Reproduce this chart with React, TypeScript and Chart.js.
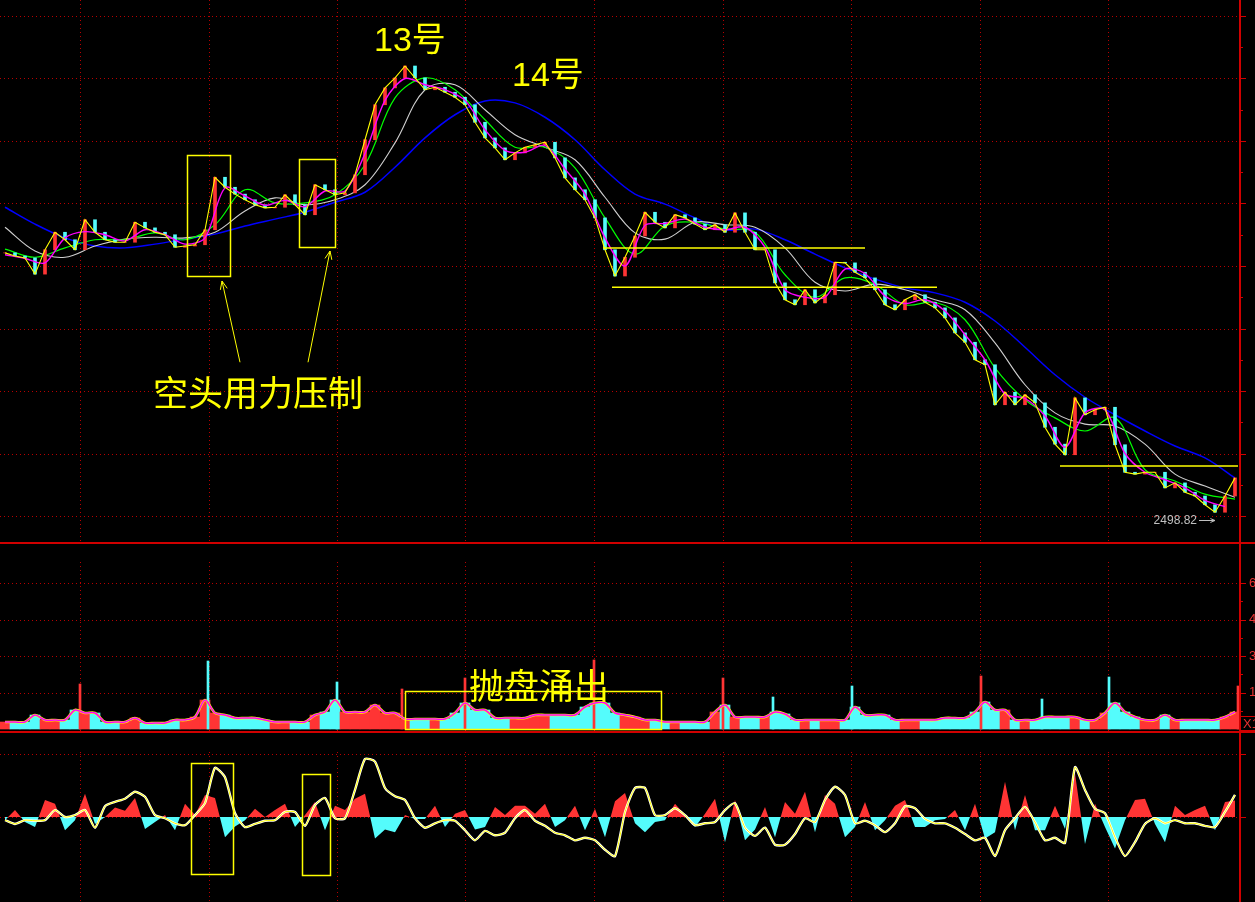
import React, { useEffect, useRef } from "react";
import { Chart, registerables } from "chart.js";
Chart.register(...registerables);

// ---------------- data (one bar index = one sampled trading slot) ----------------
const closes = [
  2921, 2916, 2913, 2887, 2926, 2954, 2942, 2926, 2974, 2954,
  2942, 2938, 2938, 2970, 2961, 2954, 2950, 2930, 2932, 2934,
  2958, 3042, 3026, 3015, 3006, 2998, 2993, 2994, 3014, 2998,
  2982, 3030, 3022, 3014, 3017, 3046, 3102, 3158, 3185, 3201,
  3220, 3201, 3182, 3186, 3178, 3170, 3158, 3130, 3105, 3089,
  3070, 3081, 3090, 3094, 3098, 3073, 3041, 3022, 3006, 2977,
  2926, 2884, 2914, 2948, 2986, 2970, 2961, 2982, 2977, 2967,
  2958, 2966, 2954, 2985, 2954, 2926, 2926, 2873, 2846, 2838,
  2862, 2841, 2854, 2906, 2905, 2890, 2881, 2862, 2838, 2830,
  2846, 2854, 2842, 2833, 2817, 2793, 2778, 2750, 2742, 2678,
  2698, 2678, 2694, 2681, 2642, 2615, 2598, 2689, 2662, 2670,
  2674, 2614, 2570, 2567, 2570, 2570, 2545, 2553, 2538, 2532,
  2518, 2506, 2532, 2561,
];
// magenta short average, one value every 2 bars
const maShort = [
  2918, 2912, 2905, 2945, 2955, 2950, 2940, 2958, 2950, 2935,
  2945, 3025, 3012, 2997, 3005, 2995, 3020, 3020, 3080, 3165,
  3200, 3190, 3182, 3165, 3118, 3085, 3082, 3093, 3055, 3015,
  2945, 2900, 2965, 2968, 2975, 2962, 2958, 2962, 2930, 2862,
  2850, 2850, 2895, 2888, 2852, 2840, 2846, 2828, 2790, 2750,
  2695, 2688, 2660, 2610, 2665, 2670, 2600, 2570, 2558, 2545,
  2525, 2515,
];
// green / gray / blue averages, one value every 3 bars
const maGreen = [
  2927, 2914, 2929, 2942, 2942, 2953, 2942, 2966, 3022, 3001,
  3001, 3014, 3062, 3169, 3201, 3182, 3134, 3090, 3090, 3057,
  2977, 2919, 2964, 2970, 2959, 2954, 2886, 2850, 2881, 2870,
  2838, 2842, 2814, 2737, 2686, 2657, 2636, 2657, 2574, 2556,
  2535, 2527,
];
const maGray = [
  2962, 2924, 2914, 2932, 2943, 2946, 2945, 2954, 2988, 3009,
  2998, 3006, 3030, 3097, 3182, 3190, 3150, 3110, 3090, 3070,
  3010, 2953, 2943, 2970, 2966, 2962, 2929, 2874, 2860, 2871,
  2862, 2846, 2830, 2777, 2710, 2665, 2647, 2644, 2615, 2567,
  2548, 2530,
];
const maBlue = [
  2994, 2967, 2945, 2932, 2929, 2935, 2943, 2951, 2964, 2975,
  2986, 3002, 3018, 3058, 3105, 3142, 3164, 3161, 3138, 3102,
  3054, 3015, 2999, 2977, 2958, 2959, 2942, 2919, 2897, 2879,
  2865, 2857, 2842, 2812, 2770, 2726, 2690, 2662, 2636, 2612,
  2593, 2561,
];
const volumes = [
  288, 288, 288, 575, 370, 370, 370, 781, 658, 658,
  288, 288, 288, 452, 247, 247, 247, 370, 370, 493,
  1192, 658, 575, 452, 452, 452, 370, 288, 288, 288,
  288, 575, 699, 1192, 699, 699, 699, 986, 658, 658,
  411, 411, 411, 411, 411, 658, 1069, 781, 781, 452,
  452, 452, 452, 575, 575, 575, 575, 575, 904, 1069,
  1069, 658, 575, 493, 370, 370, 288, 288, 288, 288,
  288, 699, 986, 493, 493, 493, 493, 699, 617, 370,
  370, 370, 370, 370, 370, 904, 575, 575, 575, 370,
  370, 370, 370, 370, 452, 452, 452, 699, 1110, 781,
  781, 370, 370, 370, 493, 493, 493, 493, 370, 370,
  658, 1069, 699, 493, 370, 370, 575, 370, 370, 370,
  370, 370, 493, 699,
];
const spikeIdx = [7.5, 20.3, 33.2, 39.7, 46.0, 58.9, 71.8, 76.8, 84.7, 97.6, 103.7, 110.4, 123.3];
const spikeVol = [1850, 2795, 1932, 1644, 2096, 2836, 2096, 1315, 1767, 2178, 1233, 2137, 1767];
const spikeUp = [true, false, false, true, true, true, true, false, false, true, false, false, true];
const oscLine = [
  -5, -11, -5, -6, -5, 11, 0, 3, 11, -17,
  17, 24, 29, 40, 32, 3, -2, -10, -13, 3,
  22, 78, 63, 6, -16, -11, -6, -5, 8, 8,
  -14, 19, 30, -2, -2, 43, 92, 88, 46, 33,
  27, -2, -17, -10, -5, -6, -21, -37, -22, -29,
  -25, -2, 11, -6, -14, -25, -29, -37, -33, -37,
  -52, -62, 8, 46, 46, 3, 3, 14, 3, -13,
  -10, -8, 11, 22, -17, -30, -17, -44, -44, -27,
  -2, -8, 27, 48, 35, -10, -6, -13, -24, -10,
  17, 14, -3, -10, -10, -17, -27, -37, -33, -62,
  -21, -2, 16, -8, -37, -33, -41, 79, 43, 13,
  6, -32, -62, -40, -11, -2, -10, -5, -10, -10,
  -14, -16, 8, 35,
];
const oscHist = [
  -5, 11, -8, -16, 27, 21, -21, -5, 37, -11,
  0, 15, 10, 30, -19, -8, 3, -21, 21, 3,
  35, 30, -32, -15, -5, 13, 0, 11, 21, -16,
  3, 24, -21, 18, 11, 29, 37, -34, -20, -24,
  3, -3, -3, 18, -16, 5, 11, -20, -16, 16,
  3, 18, 18, 5, 21, -16, -5, 18, -21, 13,
  -32, 25, 38, -10, -24, -8, -5, 21, 3, -16,
  5, 29, -40, 27, -37, -20, 16, -32, 24, 5,
  40, -24, 35, 21, -32, -16, 24, -21, -5, 18,
  27, -16, -16, -5, -3, 11, -21, 21, -34, -24,
  56, -21, 35, -21, -21, 18, -19, 69, -43, 21,
  -16, -50, -5, 27, 29, -11, -40, 18, 3, 11,
  18, -21, 24, 26,
];

// axis / grid values
const dateGridIdx = [7.5, 20.35, 33.2, 46.05, 58.9, 71.75, 84.6, 97.45, 110.3];
const priceGrid = [2500, 2600, 2700, 2800, 2900, 3000, 3100, 3200, 3300];
const priceMinorTicks = [2550, 2650, 2750, 2850, 2950, 3050, 3150, 3250];
const volGrid = [1500, 3000, 4500, 6000];
const volMinorTicks = [750, 2250, 3750, 5250];
const volLabels = ["1500", "3000", "4500", "6000"];
const oscGrid = [0, 100];

// annotations (data coordinates)
const priceBoxes = [[18.2, 22.5, 3078, 2884], [29.4, 33.0, 3071, 2930]];
const supportLines = [[59.8, 86.0, 2929], [60.7, 93.2, 2866], [105.5, 123.3, 2580]];
const priceArrows = [[23.5, 2746, 21.7, 2876], [30.3, 2746, 32.5, 2924]];
const peakLabels = [["13号", 36.9, 3244], ["14号", 50.7, 3188]];
const pressText = ["空头用力压制", 25.3, 2698];
const lowLabel = ["2498.82", 119.2, 2492, 121.0];
const volBox = [40.0, 65.6, 1560, 0];
const volText = ["抛盘涌出", 53.4, 1767];
const oscBoxes = [[18.6, 22.8, 85.7, -90.5], [29.7, 32.5, 68.3, -92.1]];

const COL = {
  red: "#ff3434",
  cyan: "#54fcfc",
  yellow: "#ffff00",
  magenta: "#ff00ff",
  green: "#00ff00",
  gray: "#d0d0d0",
  blue: "#0000ff",
  grid: "#b80000",
  axis: "#d00000",
  label: "#e83030",
};

const X_MIN = -0.5;
const X_MAX = 123.5;

function seg(ctx: CanvasRenderingContext2D, x1: number, y1: number, x2: number, y2: number) {
  ctx.beginPath();
  ctx.moveTo(x1, y1);
  ctx.lineTo(x2, y2);
  ctx.stroke();
}

function baseOptions(yMin: number, yMax: number): any {
  return {
    responsive: false,
    animation: false,
    devicePixelRatio: 1,
    events: [],
    layout: { padding: { left: 0, right: 15, top: 0, bottom: 0 } },
    plugins: { legend: { display: false }, tooltip: { enabled: false } },
    scales: {
      x: { type: "linear", min: X_MIN, max: X_MAX, display: false, offset: false },
      y: { type: "linear", min: yMin, max: yMax, display: false },
    },
  };
}

function panelPlugin(id: string, hGrid: number[], vTop: number, majors: number[], minors: number[], extra: (chart: any) => void): any {
  return {
    id,
    beforeDatasetsDraw(chart: any) {
      const { ctx, chartArea, scales } = chart;
      ctx.save();
      ctx.strokeStyle = COL.grid;
      ctx.lineWidth = 1;
      ctx.setLineDash([1, 3]);
      hGrid.forEach((v) => {
        const y = Math.round(scales.y.getPixelForValue(v)) + 0.5;
        seg(ctx, chartArea.left, y, chartArea.right, y);
      });
      dateGridIdx.forEach((v) => {
        const x = Math.round(scales.x.getPixelForValue(v)) + 0.5;
        seg(ctx, x, vTop, x, chartArea.bottom);
      });
      ctx.restore();
    },
    afterDraw(chart: any) {
      const { ctx, chartArea, scales, height } = chart;
      ctx.save();
      extra(chart);
      ctx.fillStyle = COL.axis;
      ctx.fillRect(chartArea.right - 1, 0, 2, height);
      majors.forEach((v) => {
        const y = Math.round(scales.y.getPixelForValue(v));
        ctx.fillRect(chartArea.right + 1, y, 5, 1);
      });
      minors.forEach((v) => {
        const y = Math.round(scales.y.getPixelForValue(v));
        ctx.fillRect(chartArea.right + 1, y, 2, 1);
      });
      ctx.restore();
    },
  };
}

function drawArrow(ctx: CanvasRenderingContext2D, x1: number, y1: number, x2: number, y2: number, head: number) {
  seg(ctx, x1, y1, x2, y2);
  const a = Math.atan2(y2 - y1, x2 - x1);
  const s = 0.4;
  seg(ctx, x2, y2, x2 - head * Math.cos(a - s), y2 - head * Math.sin(a - s));
  seg(ctx, x2, y2, x2 - head * Math.cos(a + s), y2 - head * Math.sin(a + s));
}

function boxPx(ctx: CanvasRenderingContext2D, sx: any, sy: any, b: number[]) {
  const x0 = Math.round(sx.getPixelForValue(b[0])) + 0.5;
  const x1 = Math.round(sx.getPixelForValue(b[1])) + 0.5;
  const y0 = Math.round(sy.getPixelForValue(b[2])) + 0.5;
  const y1 = Math.round(sy.getPixelForValue(b[3])) + 0.5;
  ctx.strokeRect(x0, y0, x1 - x0, y1 - y0);
}

const upFlags = closes.map((c, i) => (i === 0 ? true : c >= closes[i - 1]));
const lineDs = (values: number[], step: number, color: string, width: number, order: number, tension = 0.35): any => ({
  type: "line",
  data: values.map((v, k) => ({ x: k * step, y: v })),
  borderColor: color,
  borderWidth: width,
  pointRadius: 0,
  tension,
  order,
});

export default function App() {
  const priceRef = useRef<HTMLCanvasElement>(null);
  const volRef = useRef<HTMLCanvasElement>(null);
  const oscRef = useRef<HTMLCanvasElement>(null);

  useEffect(() => {
    const charts: Chart[] = [];

    // ---------------- price panel ----------------
    const priceOpts = baseOptions(2458.4, 3325.6);
    const priceDatasets: any[] = [
      {
        type: "bar",
        data: closes.map((c, i) => ({ x: i, y: [i === 0 ? c : closes[i - 1], c] })),
        backgroundColor: upFlags.map((u) => (u ? COL.red : COL.cyan)),
        barThickness: 3,
        grouped: false,
        order: 6,
      },
      lineDs(maBlue, 3, COL.blue, 1.5, 9),
      lineDs(maGray, 3, COL.gray, 1.1, 8),
      lineDs(maGreen, 3, COL.green, 1.2, 7),
      lineDs(maShort, 2, COL.magenta, 1.4, 5, 0.3),
      lineDs(closes, 1, COL.yellow, 1.1, 4, 0),
      ...supportLines.map((l) => ({
        type: "line",
        data: [{ x: l[0], y: l[2] }, { x: l[1], y: l[2] }],
        borderColor: COL.yellow,
        borderWidth: 1.5,
        pointRadius: 0,
        order: 1,
      })),
    ];
    const pricePlugin = panelPlugin("pricePanel", priceGrid, 0, priceGrid, priceMinorTicks, (chart: any) => {
      const { ctx, scales } = chart;
      const sx = scales.x, sy = scales.y;
      ctx.strokeStyle = COL.yellow;
      ctx.lineWidth = 1.5;
      priceBoxes.forEach((b) => boxPx(ctx, sx, sy, b));
      ctx.lineWidth = 1;
      priceArrows.forEach((a) =>
        drawArrow(ctx, sx.getPixelForValue(a[0]), sy.getPixelForValue(a[1]), sx.getPixelForValue(a[2]), sy.getPixelForValue(a[3]), 9)
      );
      ctx.fillStyle = COL.yellow;
      ctx.textBaseline = "alphabetic";
      ctx.textAlign = "left";
      ctx.font = '34px "Liberation Sans Narrow", "Liberation Sans", Arial, "Noto Sans CJK SC", sans-serif';
      peakLabels.forEach((p) => ctx.fillText(p[0] as string, sx.getPixelForValue(p[1] as number), sy.getPixelForValue(p[2] as number)));
      ctx.font = '35px "Noto Sans CJK SC", sans-serif';
      ctx.textAlign = "center";
      ctx.textBaseline = "middle";
      ctx.fillText(pressText[0] as string, sx.getPixelForValue(pressText[1] as number), sy.getPixelForValue(pressText[2] as number));
      // low value label
      ctx.fillStyle = "#c0c0c0";
      ctx.strokeStyle = "#c0c0c0";
      ctx.font = '12px "Liberation Sans", Arial, sans-serif';
      ctx.textAlign = "right";
      const lx = sx.getPixelForValue(lowLabel[1] as number);
      const ly = sy.getPixelForValue(lowLabel[2] as number);
      ctx.fillText(lowLabel[0] as string, lx, ly);
      ctx.lineWidth = 1;
      drawArrow(ctx, lx + 2, ly - 0.5, sx.getPixelForValue(lowLabel[3] as number), ly - 0.5, 5);
    });
    charts.push(
      new Chart(priceRef.current as HTMLCanvasElement, {
        type: "line",
        data: { datasets: priceDatasets },
        options: priceOpts,
        plugins: [pricePlugin],
      } as any)
    );

    // ---------------- volume panel ----------------
    const volOpts = baseOptions(-82, 7685);
    const volDatasets: any[] = [
      {
        type: "bar",
        data: volumes.map((v, i) => ({ x: i, y: v })),
        backgroundColor: upFlags.map((u) => (u ? COL.red : COL.cyan)),
        barThickness: 10,
        grouped: false,
        order: 5,
      },
      {
        type: "bar",
        data: spikeVol.map((v, k) => ({ x: spikeIdx[k], y: v })),
        backgroundColor: spikeUp.map((u) => (u ? COL.red : COL.cyan)),
        barThickness: 2,
        grouped: false,
        order: 4,
      },
      lineDs(volumes, 1, COL.yellow, 2.6, 3, 0.3),
      lineDs(volumes, 1, COL.magenta, 1.5, 2, 0.3),
    ];
    const volPlugin = panelPlugin("volPanel", volGrid, 20, volGrid, volMinorTicks, (chart: any) => {
      const { ctx, scales, chartArea, width } = chart;
      const sx = scales.x, sy = scales.y;
      ctx.strokeStyle = COL.yellow;
      ctx.lineWidth = 1.5;
      boxPx(ctx, sx, sy, volBox);
      ctx.fillStyle = COL.yellow;
      ctx.font = '35px "Noto Sans CJK SC", sans-serif';
      ctx.textAlign = "center";
      ctx.textBaseline = "middle";
      ctx.fillText(volText[0] as string, sx.getPixelForValue(volText[1] as number), sy.getPixelForValue(volText[2] as number));
      // separator at top
      ctx.fillStyle = COL.axis;
      ctx.fillRect(0, 0, width, 2);
      // labels
      ctx.fillStyle = COL.label;
      ctx.font = '13px "Liberation Sans", Arial, sans-serif';
      ctx.textAlign = "left";
      volGrid.forEach((v, k) => ctx.fillText(volLabels[k], chartArea.right + 9, sy.getPixelForValue(v)));
      // X1 box
      ctx.strokeStyle = COL.axis;
      ctx.lineWidth = 1;
      ctx.strokeRect(chartArea.right - 0.5, chartArea.bottom - 14.5, 20, 14);
      ctx.fillText("X1", chartArea.right + 3, chartArea.bottom - 7);
    });
    charts.push(
      new Chart(volRef.current as HTMLCanvasElement, {
        type: "line",
        data: { datasets: volDatasets },
        options: volOpts,
        plugins: [volPlugin],
      } as any)
    );

    // ---------------- oscillator panel ----------------
    const oscOpts = baseOptions(-134.9, 136.5);
    const oscDatasets: any[] = [
      {
        type: "line",
        data: oscHist.map((v, i) => ({ x: i, y: v })),
        borderColor: "rgba(0,0,0,0)",
        borderWidth: 0,
        pointRadius: 0,
        tension: 0,
        fill: { target: "origin", above: COL.red, below: COL.cyan },
        order: 5,
      },
      lineDs(oscLine, 1, "#ffffff", 2.4, 4, 0.2),
      lineDs(oscLine, 1, COL.yellow, 1, 3, 0.2),
    ];
    const oscPlugin = panelPlugin("oscPanel", oscGrid, 21, oscGrid, [], (chart: any) => {
      const { ctx, scales, width } = chart;
      const sx = scales.x, sy = scales.y;
      ctx.strokeStyle = COL.yellow;
      ctx.lineWidth = 1.5;
      oscBoxes.forEach((b) => boxPx(ctx, sx, sy, b));
      ctx.fillStyle = COL.axis;
      ctx.fillRect(0, 0, width, 2);
    });
    charts.push(
      new Chart(oscRef.current as HTMLCanvasElement, {
        type: "line",
        data: { datasets: oscDatasets },
        options: oscOpts,
        plugins: [oscPlugin],
      } as any)
    );

    return () => charts.forEach((c) => c.destroy());
  }, []);

  return (
    <div style={{ position: "fixed", left: 0, top: 0, width: 1255, height: 902, background: "#000", overflow: "hidden" }}>
      <canvas ref={priceRef} width={1255} height={542} style={{ position: "absolute", left: 0, top: 0, display: "block" }} />
      <canvas ref={volRef} width={1255} height={189} style={{ position: "absolute", left: 0, top: 542, display: "block" }} />
      <canvas ref={oscRef} width={1255} height={171} style={{ position: "absolute", left: 0, top: 731, display: "block" }} />
    </div>
  );
}
